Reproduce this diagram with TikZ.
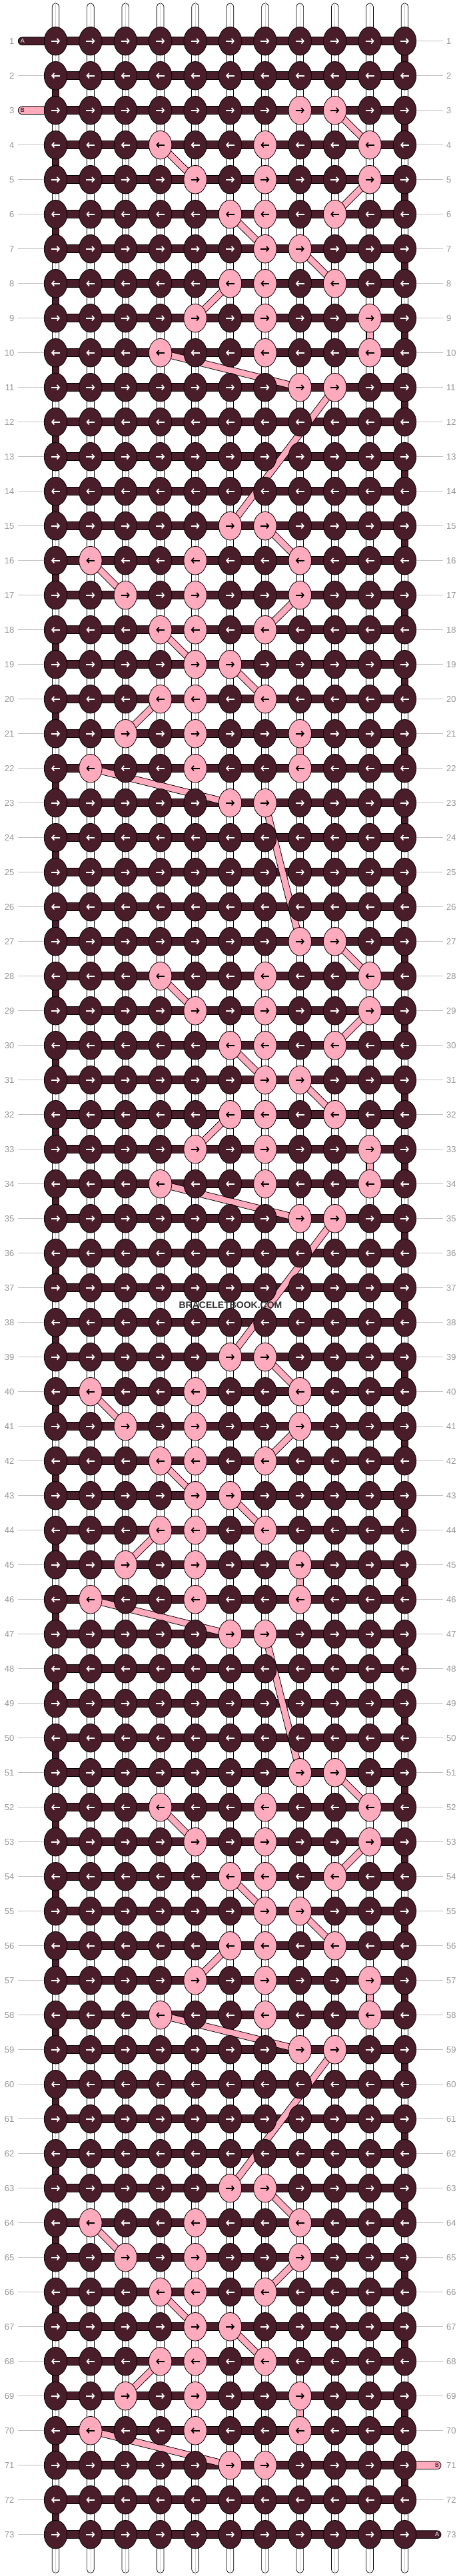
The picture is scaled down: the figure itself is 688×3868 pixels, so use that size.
\documentclass[tikz,border=0pt]{standalone}
\usepackage{fontspec}
\setmainfont{Liberation Sans}
\usetikzlibrary{arrows.meta,shapes.geometric}
\definecolor{dk}{RGB}{74,29,42}
\definecolor{pk}{RGB}{255,170,189}
\definecolor{lblc}{RGB}{150,150,150}
\definecolor{lnc}{RGB}{192,192,192}
\pgfdeclarelayer{bg}
\pgfdeclarelayer{lk}
\pgfsetlayers{bg,lk,main}
\newcommand\pkrow[2]{\foreach \c in {#2}{\expandafter\gdef\csname pk-\the\numexpr#1\relax-\c\endcsname{}}}
\newcommand\motifA[1]{\pkrow{#1}{8,9}\pkrow{#1+1}{4,7,10}\pkrow{#1+2}{5,7,10}\pkrow{#1+3}{6,7,9}\pkrow{#1+4}{7,8}\pkrow{#1+5}{6,7,9}\pkrow{#1+6}{5,7,10}\pkrow{#1+7}{4,7,10}\pkrow{#1+8}{8,9}}
\newcommand\motifB[1]{\pkrow{#1}{6,7}\pkrow{#1+1}{2,5,8}\pkrow{#1+2}{3,5,8}\pkrow{#1+3}{4,5,7}\pkrow{#1+4}{5,6}\pkrow{#1+5}{4,5,7}\pkrow{#1+6}{3,5,8}\pkrow{#1+7}{2,5,8}\pkrow{#1+8}{6,7}}
\motifA{3}\motifA{27}\motifA{51}
\motifB{15}\motifB{39}\motifB{63}
\begin{document}
\begin{tikzpicture}[x=1pt,y=-1pt,
  knot/.style={ellipse,draw=black,line width=0.8pt,minimum width=34.4pt,minimum height=42.6pt,inner sep=0pt},
  arr/.style={line width=1.7pt,-{Straight Barb[length=3.3pt,width=7.6pt]}},
  bar/.style={fill=dk,draw=black,line width=0.8pt},
  conw/.style={fill=white,draw=black,line width=0.7pt},
  cond/.style={fill=dk,draw=black,line width=0.7pt},
  cline/.style={draw=gray!35,line width=0.5pt},
  lkout/.style={draw=black,line width=10.6pt},
  lkin/.style={draw=pk,line width=8.8pt},
  lbl/.style={text=lblc,font=\fontsize{13}{13}\selectfont,inner sep=0pt},
  lblline/.style={draw=lnc,line width=1pt},
  stub/.style={draw=black,line width=0.8pt,rounded corners=5.8pt},
  thread/.style={fill=white,draw=black,line width=0.7pt,rounded corners=5pt},
  letter/.style={font=\fontsize{9}{9}\selectfont,inner sep=0pt}]
\begin{pgfonlayer}{bg}
\fill[white] (0,0) rectangle (688,3868);
\end{pgfonlayer}
\useasboundingbox (0,0) rectangle (688,3868);
% knots
\foreach \r in {1,...,73}{
  \pgfmathsetmacro\Y{61.7+52*(\r-1)}
  \ifodd\r \def\sg{1}\else\def\sg{-1}\fi
  \foreach \c in {1,...,11}{
    \pgfmathsetmacro\X{83.5+52.4*(\c-1)}
    \pgfmathsetmacro\xa{\X-6.5*(\sg)}
    \pgfmathsetmacro\xb{\X+6.5*(\sg)}
    \ifcsname pk-\r-\c\endcsname
      \node[knot,fill=pk] (k-\r-\c) at (\X,\Y) {};
      \draw[arr,black] (\xa,\Y) -- (\xb,\Y);
    \else
      \node[knot,fill=dk] (k-\r-\c) at (\X,\Y) {};
      \draw[arr,white] (\xa,\Y) -- (\xb,\Y);
    \fi
  }
  \node[lbl,anchor=east] (ll-\r) at (21.5,\Y) {\r};
  \node[lbl,anchor=west] (lr-\r) at (670,\Y) {\r};
}
% label lines
\foreach \r in {2,4,5,...,73}{\draw[lblline,shorten <=5pt] (ll-\r.east) -- (k-\r-1.west);}
\foreach \r in {1,...,70,72}{\draw[lblline,shorten >=5pt] (k-\r-11.east) -- (lr-\r.west);}
% bars, connectors, threads
\begin{pgfonlayer}{bg}
\foreach \r in {1,...,73}{
  \draw[bar] ([yshift=-5.85pt]k-\r-1.center) rectangle ([yshift=5.85pt]k-\r-11.center);
}
\foreach \r in {1,...,72}{
  \pgfmathtruncatemacro\rn{\r+1}
  \foreach \c in {1,...,11}{
    \def\cs{conw}
    \ifodd\r \ifnum\c=11 \def\cs{cond}\fi \else \ifnum\c=1 \def\cs{cond}\fi \fi
    \draw[\cs] ([xshift=-5.3pt]k-\r-\c.center) rectangle ([xshift=5.3pt]k-\rn-\c.center);
  }
}
\foreach \r in {1,...,72}{
  \pgfmathtruncatemacro\rn{\r+1}
  \foreach \c in {1,...,11}{
    \ifodd\r \ifnum\c=11 \else \draw[cline] (k-\r-\c.center) -- (k-\rn-\c.center);\fi
    \else \ifnum\c=1 \else \draw[cline] (k-\r-\c.center) -- (k-\rn-\c.center);\fi \fi
  }
}
\foreach \c in {1,...,11}{
  \coordinate (tt-\c) at ({83.5+52.4*(\c-1)},5);
  \coordinate (tb-\c) at ({83.5+52.4*(\c-1)},3863.3);
  \draw[thread] ([xshift=-5.3pt]k-1-\c.center) -- ([xshift=-5.3pt]tt-\c) -- ([xshift=5.3pt]tt-\c) -- ([xshift=5.3pt]k-1-\c.center);
  \draw[cline] ([yshift=3pt]tt-\c) -- (k-1-\c.center);
  \draw[thread] ([xshift=-5.3pt]k-73-\c.center) -- ([xshift=-5.3pt]tb-\c) -- ([xshift=5.3pt]tb-\c) -- ([xshift=5.3pt]k-73-\c.center);
  \draw[cline] ([yshift=-3pt]tb-\c) -- (k-73-\c.center);
}
% stubs
\coordinate (sA1) at (27.3,61.7);
\coordinate (sB3) at (27.3,165.7);
\coordinate (sB71) at (662,3701.7);
\coordinate (sA73) at (662,3805.7);
\draw[stub,fill=dk] ([yshift=-5.85pt]k-1-1.center) -- ([yshift=-5.85pt]sA1) -- ([yshift=5.85pt]sA1) -- ([yshift=5.85pt]k-1-1.center);
\draw[stub,fill=pk] ([yshift=-5.85pt]k-3-1.center) -- ([yshift=-5.85pt]sB3) -- ([yshift=5.85pt]sB3) -- ([yshift=5.85pt]k-3-1.center);
\draw[stub,fill=pk] ([yshift=-5.85pt]k-71-11.center) -- ([yshift=-5.85pt]sB71) -- ([yshift=5.85pt]sB71) -- ([yshift=5.85pt]k-71-11.center);
\draw[stub,fill=dk] ([yshift=-5.85pt]k-73-11.center) -- ([yshift=-5.85pt]sA73) -- ([yshift=5.85pt]sA73) -- ([yshift=5.85pt]k-73-11.center);
\end{pgfonlayer}
\node[letter,text=white] (tA1) at (34,61.7) {A};
\node[letter,text=black] (tB3) at (34,165.7) {B};
\node[letter,text=black] (tB71) at (656,3701.7) {B};
\node[letter,text=white] (tA73) at (656,3805.7) {A};
% pink thread links
\begin{pgfonlayer}{lk}
\foreach \s in {3,27,51}{
  \foreach \a/\ca/\b/\cb in {0/9/1/10,1/4/2/5,2/10/3/9,3/6/4/7,4/8/5/9,5/6/6/5,6/10/7/10,7/4/8/8,8/9/12/6}{
    \pgfmathtruncatemacro\ra{\s+\a}\pgfmathtruncatemacro\rb{\s+\b}
    \draw[lkout] (k-\ra-\ca.center) -- (k-\rb-\cb.center);
    \draw[lkin] (k-\ra-\ca.center) -- (k-\rb-\cb.center);
  }
}
\foreach \s in {15,39,63}{
  \foreach \a/\ca/\b/\cb in {0/7/1/8,1/2/2/3,2/8/3/7,3/4/4/5,4/6/5/7,5/4/6/3,6/8/7/8,7/2/8/6}{
    \pgfmathtruncatemacro\ra{\s+\a}\pgfmathtruncatemacro\rb{\s+\b}
    \draw[lkout] (k-\ra-\ca.center) -- (k-\rb-\cb.center);
    \draw[lkin] (k-\ra-\ca.center) -- (k-\rb-\cb.center);
  }
}
\foreach \ra/\rb in {23/27,47/51}{
  \draw[lkout] (k-\ra-7.center) -- (k-\rb-8.center);
  \draw[lkin] (k-\ra-7.center) -- (k-\rb-8.center);
}
\end{pgfonlayer}
\node[font=\bfseries\fontsize{14}{14}\selectfont,text=black!80,inner sep=0pt] (wm) at (346,1960) {BRACELETBOOK.COM};
\end{tikzpicture}
\end{document}
